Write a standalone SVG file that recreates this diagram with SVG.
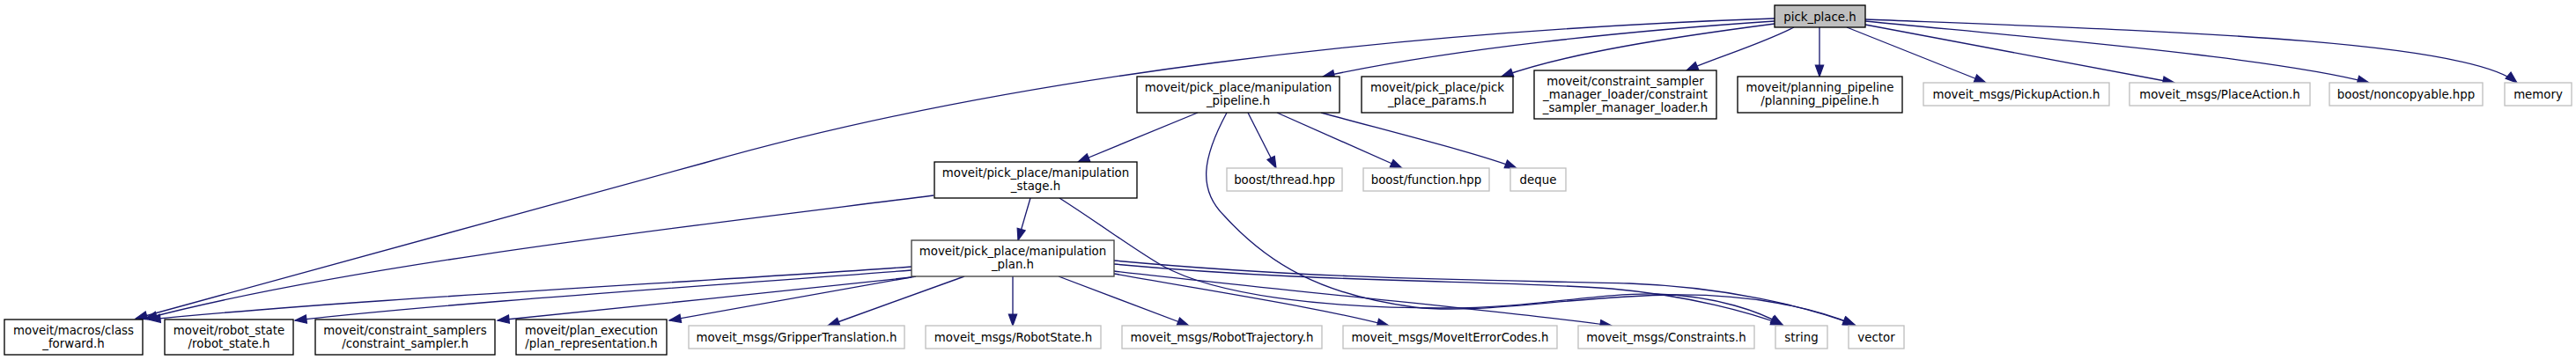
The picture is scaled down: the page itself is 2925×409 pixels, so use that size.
<svg xmlns="http://www.w3.org/2000/svg" width="2925" height="409" viewBox="0 0 2925 409">
<style>
text{font-family:"DejaVu Sans","Liberation Sans",sans-serif;font-size:13.33px;text-anchor:middle;fill:#000}
.n rect{fill:#fff;stroke:#000;stroke-width:1.33}
.g rect{fill:#fff;stroke:#bfbfbf;stroke-width:1.33}
.c rect{fill:#bfbfbf;stroke:#000;stroke-width:1.33}
.p rect{fill:#fff;stroke:#404040;stroke-width:1.33}
#edges path{fill:none;stroke:#191970;stroke-width:1.33;marker-end:url(#a)}
</style>
<defs>
<marker id="a" markerWidth="15" markerHeight="11" refX="13" refY="4.65" orient="auto" markerUnits="userSpaceOnUse" overflow="visible"><path d="M0,0 L13,4.65 L0,9.3 z" fill="#191970" stroke="#191970" stroke-width="1.2"/></marker>
</defs>
<rect width="2925" height="409" fill="#fff"/>
<g id="edges">
<path d="M2015,21 C1600,35 1150,85 800,185 C550,255 300,320 154,362"/>
<path d="M2015,24 C1850,35 1650,55 1502,87"/>
<path d="M2015,27 C1900,42 1780,60 1705,87"/>
<path d="M2037,31 C2000,50 1950,65 1915,80"/>
<path d="M2066,31 L2066,87"/>
<path d="M2097,31 L2255,94"/>
<path d="M2118,28 L2469,94"/>
<path d="M2118,24 C2300,42 2580,65 2690,94"/>
<path d="M2118,22 C2450,35 2800,45 2858,94"/>
<path d="M1360,128 L1224,184"/>
<path d="M1393,128 C1365,180 1360,215 1390,245 C1440,300 1500,335 1606,349 C1680,358 1790,336 1900,335 C1990,334 2060,350 2106,369"/>
<path d="M1417,128 L1449,191"/>
<path d="M1450,128 L1592,191"/>
<path d="M1500,128 C1600,155 1680,175 1722,191"/>
<path d="M1060,222 C800,255 400,300 165,362"/>
<path d="M1170,225 L1156,273"/>
<path d="M1203,225 C1250,255 1290,285 1320,302 C1380,335 1500,350 1640,350 C1740,350 1810,333 1880,334 C1950,336 2000,355 2024,369"/>
<path d="M1035,303 C800,320 400,340 169,363"/>
<path d="M1035,307 C800,325 500,345 335,364"/>
<path d="M1035,315 C900,330 700,350 565,364"/>
<path d="M1040,314 L760,364"/>
<path d="M1095,314 L940,370"/>
<path d="M1150,314 L1150,370"/>
<path d="M1202,314 L1350,370"/>
<path d="M1265,311 C1400,335 1500,350 1577,370"/>
<path d="M1265,308 C1500,335 1700,352 1830,370"/>
<path d="M1265,300 C1500,322 1700,318 1830,328 C1920,336 1990,356 2024,369"/>
<path d="M1265,296 C1500,318 1700,318 1850,322 C1960,326 2050,348 2106,369"/>
</g>
<g id="n_pick_place" class="c"><rect x="2015" y="6" width="103" height="25"/><text x="2066.5" y="23.5">pick_place.h</text></g>
<g id="n_pipeline" class="n"><rect x="1291" y="87" width="230" height="41"/><text x="1406" y="104">moveit/pick_place/manipulation</text><text x="1406" y="119">_pipeline.h</text></g>
<g id="n_params" class="n"><rect x="1546" y="87" width="172" height="41"/><text x="1632" y="104">moveit/pick_place/pick</text><text x="1632" y="119">_place_params.h</text></g>
<g id="n_loader" class="n"><rect x="1742" y="80" width="207" height="55"/><text x="1845.5" y="97">moveit/constraint_sampler</text><text x="1845.5" y="112">_manager_loader/constraint</text><text x="1845.5" y="127">_sampler_manager_loader.h</text></g>
<g id="n_planning" class="n"><rect x="1973" y="87" width="187" height="41"/><text x="2066.5" y="104">moveit/planning_pipeline</text><text x="2066.5" y="119">/planning_pipeline.h</text></g>
<g id="n_pickup" class="g"><rect x="2184" y="94" width="211" height="26"/><text x="2289.5" y="111.5">moveit_msgs/PickupAction.h</text></g>
<g id="n_place" class="g"><rect x="2418" y="94" width="205" height="26"/><text x="2520.5" y="111.5">moveit_msgs/PlaceAction.h</text></g>
<g id="n_noncopyable" class="g"><rect x="2645" y="94" width="174" height="26"/><text x="2732" y="111.5">boost/noncopyable.hpp</text></g>
<g id="n_memory" class="g"><rect x="2844" y="94" width="76" height="26"/><text x="2882" y="111.5">memory</text></g>
<g id="n_stage" class="n"><rect x="1061" y="184" width="230" height="41"/><text x="1176" y="201">moveit/pick_place/manipulation</text><text x="1176" y="216">_stage.h</text></g>
<g id="n_thread" class="g"><rect x="1393" y="191" width="131" height="26"/><text x="1458.5" y="208.5">boost/thread.hpp</text></g>
<g id="n_function" class="g"><rect x="1548" y="191" width="143" height="26"/><text x="1619.5" y="208.5">boost/function.hpp</text></g>
<g id="n_deque" class="g"><rect x="1715" y="191" width="63" height="26"/><text x="1746.5" y="208.5">deque</text></g>
<g id="n_plan" class="p"><rect x="1035" y="273" width="230" height="41"/><text x="1150" y="290">moveit/pick_place/manipulation</text><text x="1150" y="305">_plan.h</text></g>
<g id="n_class_forward" class="n"><rect x="5" y="363" width="157" height="40"/><text x="83.5" y="380">moveit/macros/class</text><text x="83.5" y="395">_forward.h</text></g>
<g id="n_robot_state" class="n"><rect x="187" y="363" width="146" height="40"/><text x="260" y="380">moveit/robot_state</text><text x="260" y="395">/robot_state.h</text></g>
<g id="n_constraint_sampler" class="n"><rect x="358" y="363" width="204" height="40"/><text x="460" y="380">moveit/constraint_samplers</text><text x="460" y="395">/constraint_sampler.h</text></g>
<g id="n_plan_rep" class="n"><rect x="586" y="363" width="171" height="40"/><text x="671.5" y="380">moveit/plan_execution</text><text x="671.5" y="395">/plan_representation.h</text></g>
<g id="n_gripper" class="g"><rect x="782" y="370" width="245" height="26"/><text x="904.5" y="387.5">moveit_msgs/GripperTranslation.h</text></g>
<g id="n_robotstate_msg" class="g"><rect x="1051" y="370" width="199" height="26"/><text x="1150.5" y="387.5">moveit_msgs/RobotState.h</text></g>
<g id="n_trajectory" class="g"><rect x="1274" y="370" width="227" height="26"/><text x="1387.5" y="387.5">moveit_msgs/RobotTrajectory.h</text></g>
<g id="n_errorcodes" class="g"><rect x="1525" y="370" width="243" height="26"/><text x="1646.5" y="387.5">moveit_msgs/MoveItErrorCodes.h</text></g>
<g id="n_constraints" class="g"><rect x="1792" y="370" width="200" height="26"/><text x="1892" y="387.5">moveit_msgs/Constraints.h</text></g>
<g id="n_string" class="g"><rect x="2016" y="370" width="59" height="26"/><text x="2045.5" y="387.5">string</text></g>
<g id="n_vector" class="g"><rect x="2099" y="370" width="63" height="26"/><text x="2130.5" y="387.5">vector</text></g>
</svg>
